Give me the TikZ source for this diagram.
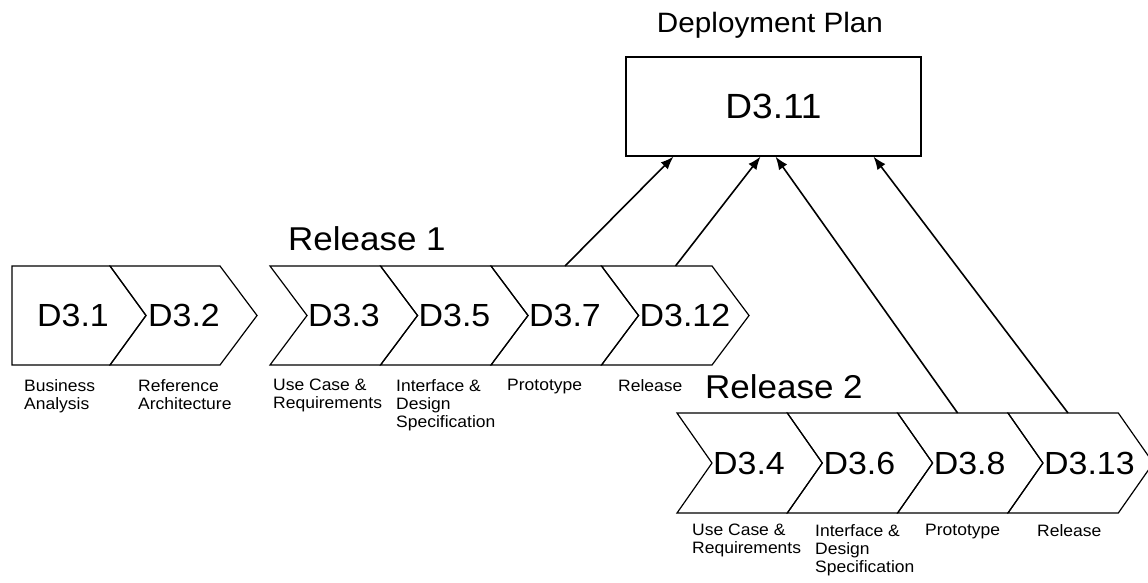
\documentclass[tikz,border=0pt]{standalone}
\usepackage{fontspec}
\setmainfont{Liberation Sans}[FakeStretch=1.06]
\usetikzlibrary{arrows.meta}

\tikzset{
  chevline/.style={draw, line width=1.2pt, line join=miter},
  dtext/.style={anchor=west, inner sep=0pt, font=\fontsize{32}{36}\selectfont},
  lbl/.style={anchor=north west, align=left, inner sep=0pt,
    font=\fontsize{16.5}{18}\selectfont},
  rel/.style={anchor=base west, inner sep=0pt, font=\fontsize{33}{36}\selectfont},
  arr/.style={-{Latex[length=13pt,width=10pt]}, line width=1.6pt},
}

\begin{document}
\begin{tikzpicture}[x=1pt,y=-1pt]
        \useasboundingbox (0,0) rectangle (1148,583);

        % deployment plan
        \node[anchor=base, inner sep=0pt, font=\fontsize{28}{30}\selectfont] (title) at (770,33) {Deployment Plan};
        \node[draw, line width=1.2pt, minimum width=295pt, minimum height=99pt, font=\fontsize{35}{38}\selectfont] (d311) at (773.5,106.5) {D3.11};

        % first row
        \draw[chevline] (12,266) -- (110,266) -- (146,315.5) -- (110,365) -- (12,365) -- cycle;
        \node[dtext] (d31) at (37,315.5) {D3.1};
        \draw[chevline] (110,266) -- (220,266) -- (257,315.5) -- (220,365) -- (110,365) -- (146,315.5) -- cycle;
        \node[dtext] (d32) at (148,315.5) {D3.2};

        \node[rel] (rel1) at (288,250) {Release 1};
        \foreach \x/\name/\txt in {270/d33/D3.3, 380.5/d35/D3.5, 491/d37/D3.7, 601.5/d312/D3.12} {
          \draw[chevline] (\x,266) -- ++(110.5,0) -- ++(37,49.5) -- ++(-37,49.5) -- ++(-110.5,0) -- ++(37,-49.5) -- cycle;
          \coordinate (top-\name) at (\x+74,266);
          \node[dtext] (\name) at (\x+38,315.5) {\txt};
        }

        \node[lbl] (t31) at (24,379) {Business\\Analysis};
        \node[lbl] (t32) at (138,379) {Reference\\Architecture};
        \node[lbl] (t33) at (273,379) {Use Case \&\\Requirements};
        \node[lbl] (t35) at (396,379) {Interface \&\\Design\\Specification};
        \node[lbl] (t37) at (507,379) {Prototype};
        \node[lbl] (t312) at (618,379) {Release};

        % second row
        \node[rel] (rel2) at (705,398) {Release 2};
        \foreach \x/\name/\txt in {677/d34/D3.4, 787.3/d36/D3.6, 897.6/d38/D3.8, 1008/d313/D3.13} {
          \draw[chevline] (\x,413) -- ++(110.3,0) -- ++(35,50) -- ++(-35,50) -- ++(-110.3,0) -- ++(35,-50) -- cycle;
          \coordinate (top-\name) at (\x+60,413);
          \node[dtext] (\name) at (\x+36,463.5) {\txt};
        }

        \node[lbl] (t34) at (692,524) {Use Case \&\\Requirements};
        \node[lbl] (t36) at (815,524) {Interface \&\\Design\\Specification};
        \node[lbl] (t38) at (925,524) {Prototype};
        \node[lbl] (t313) at (1037,524) {Release};

        % deliverables into the plan
        \draw[arr] (top-d37) -- ([xshift=-100pt]d311.south);
        \draw[arr] (top-d312) -- ([xshift=-13pt]d311.south);
        \draw[arr] (top-d38) -- ([xshift=2pt]d311.south);
        \draw[arr] (top-d313) -- ([xshift=100pt]d311.south);
    \end{tikzpicture}
\end{document}
